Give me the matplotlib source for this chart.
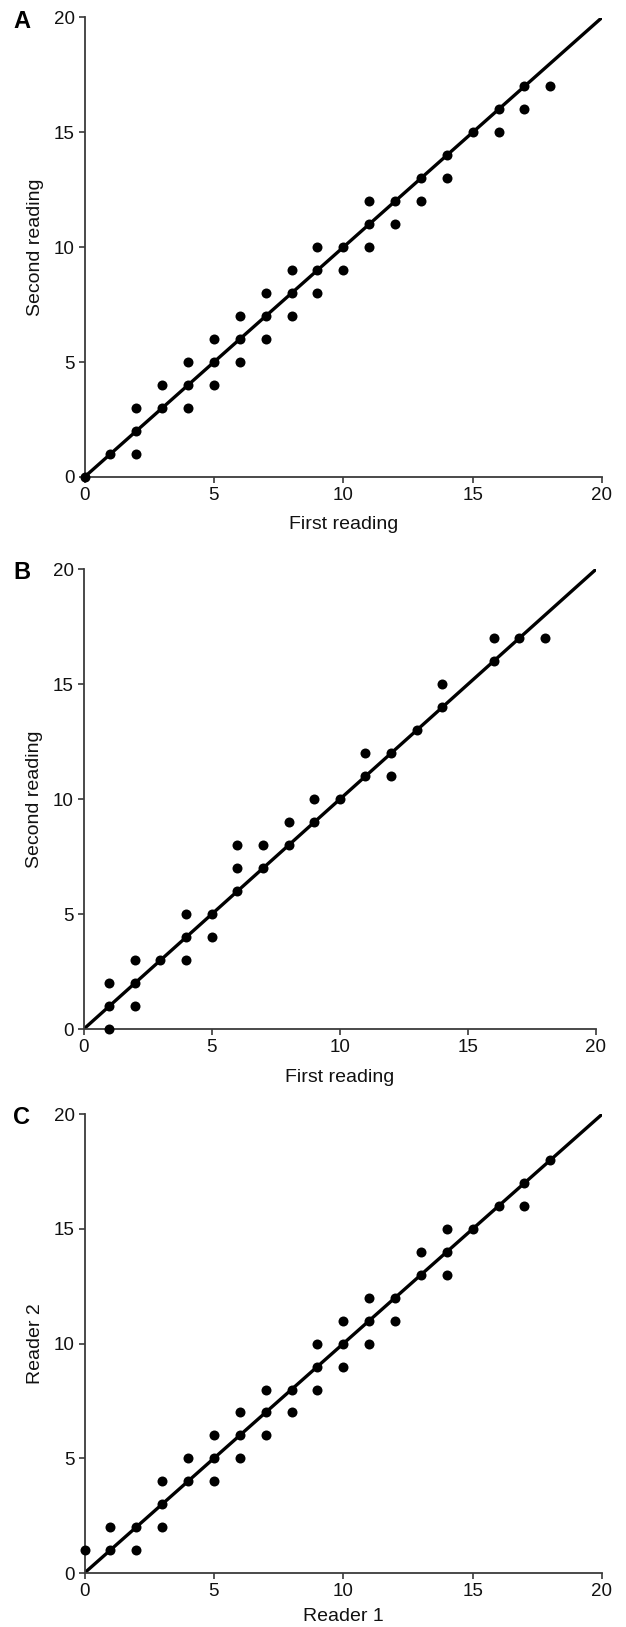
import matplotlib
matplotlib.use("Agg")
import matplotlib.pyplot as plt

plt.rcParams['font.family'] = ['Liberation Sans', 'DejaVu Sans']

# Panel A: test-retest (first vs second reading)
a_first = [0, 1, 2, 2, 2, 3, 3, 4, 4, 4, 5, 5, 5, 6, 6, 6, 7, 7, 7, 8, 8, 8,
           9, 9, 9, 10, 10, 11, 11, 11, 12, 12, 13, 13, 14, 14, 15, 16, 16,
           17, 17, 18]
a_second = [0, 1, 3, 2, 1, 4, 3, 5, 4, 3, 6, 5, 4, 7, 6, 5, 8, 7, 6, 9, 8, 7,
            10, 9, 8, 10, 9, 12, 11, 10, 12, 11, 13, 12, 14, 13, 15, 16, 15,
            17, 16, 17]

# Panel B
b_first = [1, 1, 1, 2, 2, 2, 3, 4, 4, 4, 5, 5, 6, 6, 6, 7, 7, 8, 8, 9, 9, 10,
           11, 11, 12, 12, 13, 14, 14, 16, 16, 17, 18]
b_second = [2, 1, 0, 3, 2, 1, 3, 5, 4, 3, 5, 4, 8, 7, 6, 8, 7, 9, 8, 10, 9, 10,
            12, 11, 12, 11, 13, 15, 14, 17, 16, 17, 17]

# Panel C: inter-reader
c_reader1 = [0, 1, 1, 2, 2, 3, 3, 3, 4, 4, 5, 5, 5, 6, 6, 6, 7, 7, 7, 8, 8,
             9, 9, 9, 10, 10, 10, 11, 11, 11, 12, 12, 13, 13, 14, 14, 14, 15,
             16, 17, 17, 18]
c_reader2 = [1, 2, 1, 2, 1, 4, 3, 2, 5, 4, 6, 5, 4, 7, 6, 5, 8, 7, 6, 8, 7,
             10, 9, 8, 11, 10, 9, 12, 11, 10, 12, 11, 14, 13, 15, 14, 13, 15,
             16, 17, 16, 18]

ticks = [0, 5, 10, 15, 20]
identity = [0, 20]

panels = [
    ("A", a_first, a_second, "First reading", "Second reading",
     [84.5 / 626, 1 - 477 / 1627, 517.5 / 626, 459.5 / 1627], 18.5, 9),
    ("B", b_first, b_second, "First reading", "Second reading",
     [83.5 / 626, 1 - 1029.3 / 1627, 512.5 / 626, 460 / 1627], 570, 9),
    ("C", c_reader1, c_reader2, "Reader 1", "Reader 2",
     [84.5 / 626, 1 - 1573 / 1627, 517.5 / 626, 458.7 / 1627], 1114.5, 6),
]

fig = plt.figure(figsize=(6.26, 16.27), dpi=100)
spine_col = "#3a3a3a"
for letter, xs, ys, xl, yl, rect, ytop, xpad in panels:
    ax = fig.add_axes(rect)
    ax.plot(identity, identity, color="black", lw=2.4, zorder=2,
            solid_capstyle="butt")
    ax.plot(xs, ys, "o", color="black", ms=7.2, mec="none", zorder=3,
            clip_on=False)
    ax.set_xlim(0, 20)
    ax.set_ylim(0, 20)
    ax.set_xticks(ticks)
    ax.set_yticks(ticks)
    for s in ["top", "right"]:
        ax.spines[s].set_visible(False)
    for s in ["left", "bottom"]:
        ax.spines[s].set_color(spine_col)
        ax.spines[s].set_linewidth(1.3)
    ax.tick_params(direction="out", length=4, width=1.2, color=spine_col,
                   labelsize=13.5, pad=3, labelcolor="#111111")
    ax.set_xlabel(xl, fontsize=14, labelpad=xpad, color="#111111")
    ax.set_ylabel(yl, fontsize=14, labelpad=7, color="#111111")
    fig.text(22 / 626, 1 - (ytop + 2.5) / 1627, letter, fontsize=17,
             fontweight="bold", ha="center", va="center")

fig.savefig("out.png", dpi=100)
